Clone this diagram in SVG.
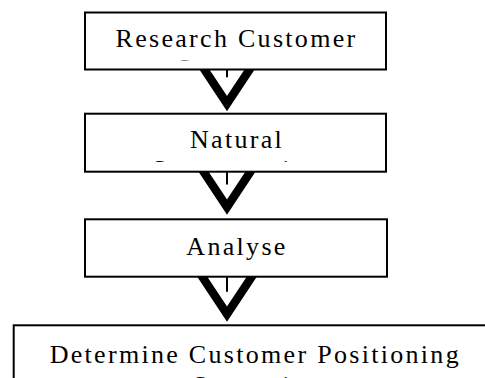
<svg xmlns="http://www.w3.org/2000/svg" width="485" height="378" viewBox="0 0 485 378">
<style>
.box{fill:#fff;stroke:#000;stroke-width:2}
.lbl{font-family:"Liberation Serif","Times New Roman",serif;font-size:26px;letter-spacing:2.3px;fill:#000;text-anchor:middle}
.vee{fill:none;stroke:#000;stroke-width:8.5;stroke-linejoin:miter;stroke-miterlimit:4}
.shaft{stroke:#000;stroke-width:2}
</style>
<defs>
<clipPath id="c1"><rect x="86" y="13.5" width="299" height="47"/></clipPath>
<clipPath id="c2"><rect x="86" y="114.7" width="299" height="47.3"/></clipPath>
</defs>
<rect width="485" height="378" fill="#fff"/>
<g id="connectors">
<polyline class="vee" points="197.1,58.5 227,103.5 256.9,58.5"/>
<line class="shaft" x1="227" y1="70" x2="227" y2="77.3"/>
<polyline class="vee" points="197.1,162 227,207 256.9,162"/>
<line class="shaft" x1="227" y1="172" x2="227" y2="184.5"/>
<polyline class="vee" points="197.1,269 227,314 256.9,269"/>
<line class="shaft" x1="227" y1="277" x2="227" y2="291.7"/>
</g>
<g id="node1">
<rect class="box" x="85" y="12.5" width="301" height="57"/>
<text class="lbl" x="236.5" y="46.7">Research Customer</text>
<text class="lbl" x="236.5" y="76.7" clip-path="url(#c1)">Segments</text>
</g>
<g id="node2">
<rect class="box" x="85" y="113.7" width="301" height="58"/>
<text class="lbl" x="237" y="148.3">Natural</text>
<text class="lbl" x="237" y="177.9" clip-path="url(#c2)">Segmentation</text>
</g>
<g id="node3">
<rect class="box" x="85" y="219.3" width="302" height="57.4"/>
<text class="lbl" x="237" y="255">Analyse</text>
</g>
<g id="node4">
<rect class="box" x="13.7" y="325.3" width="490" height="100"/>
<text class="lbl" x="255.3" y="362.7">Determine Customer Positioning</text>
<text class="lbl" x="255.3" y="394">Strategies</text>
</g>
</svg>
